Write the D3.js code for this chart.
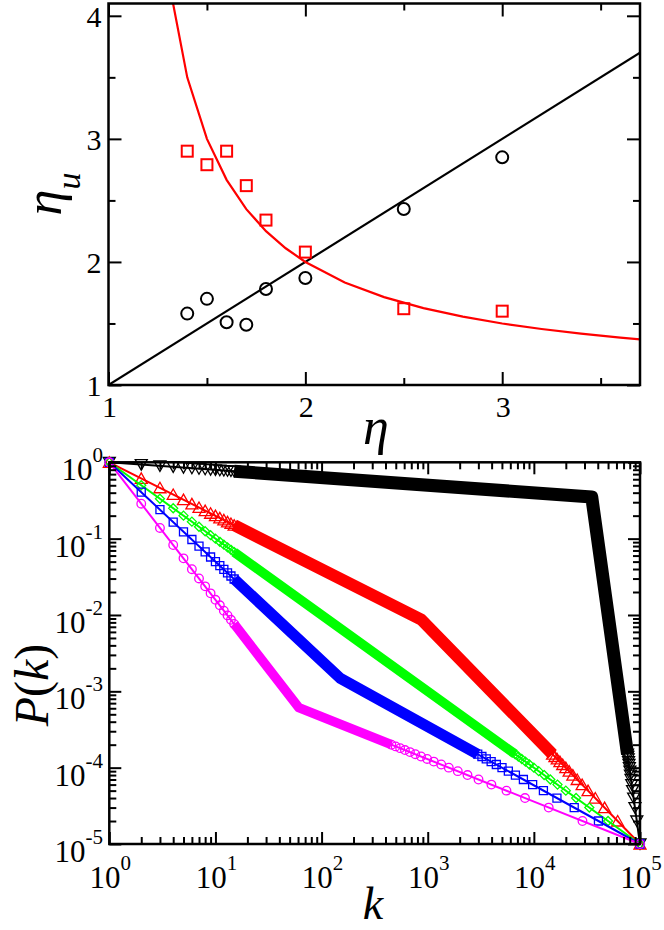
<!DOCTYPE html>
<html><head><meta charset="utf-8">
<script src="https://cdn.jsdelivr.net/npm/d3@7"></script>
<style>
body{margin:0;background:#fff}
svg{display:block}
text{font-family:'Liberation Serif','Times New Roman',serif;fill:#000}
</style>
</head><body>
<svg id="c" width="664" height="930"></svg>
<script>
// ---------------- Top panel data ----------------
const etaPts       = [1.4, 1.5, 1.6, 1.7, 1.8, 2.0, 2.5, 3.0];
const etaUSquares  = [2.90, 2.79, 2.90, 2.62, 2.34, 2.08, 1.62, 1.60];
const etaUCircles  = [1.58, 1.70, 1.51, 1.49, 1.78, 1.87, 2.43, 2.85];
const etaCurve     = [1.3, 1.4, 1.5, 1.6, 1.7, 1.8, 1.9, 2.0, 2.2, 2.4, 2.6, 2.8, 3.0, 3.2, 3.4, 3.6, 3.8];
const etaUCurve    = [4.333, 3.5, 3.0, 2.667, 2.429, 2.25, 2.111, 2.0, 1.833, 1.714, 1.625, 1.556, 1.5, 1.455, 1.417, 1.385, 1.357];
const etaLine      = [1, 3.7];
const etaULine     = [1, 3.7];
const topXTicks    = [1, 2, 3];
const topXMinor    = [1.5, 2.5, 3.5];
const topYTicks    = [1, 2, 3, 4];
const topYMinor    = [1.5, 2.5, 3.5];
const topXLabels   = ['1', '2', '3'];
const topYLabels   = ['1', '2', '3', '4'];

// ---------------- Bottom panel data ----------------
const kHead = [1, 2, 3, 4, 5, 6, 7, 8, 9, 10, 11, 12, 13, 14, 15];
const pHeadBlack   = [1, 0.933, 0.896, 0.871, 0.851, 0.836, 0.823, 0.812, 0.803, 0.794, 0.787, 0.780, 0.774, 0.768, 0.763];
const pHeadRed     = [1, 0.616, 0.464, 0.379, 0.324, 0.285, 0.256, 0.233, 0.215, 0.200, 0.187, 0.176, 0.166, 0.158, 0.150];
const pHeadGreen   = [1, 0.5, 0.333, 0.25, 0.2, 0.167, 0.143, 0.125, 0.111, 0.1, 0.0909, 0.0833, 0.0769, 0.0714, 0.0667];
const pHeadBlue    = [1, 0.406, 0.240, 0.165, 0.123, 0.0974, 0.0797, 0.0670, 0.0575, 0.0501, 0.0443, 0.0396, 0.0356, 0.0324, 0.0296];
const pHeadMagenta = [1, 0.287, 0.138, 0.0825, 0.0552, 0.0398, 0.0301, 0.0237, 0.0192, 0.0158, 0.0134, 0.0114, 0.00988, 0.00865, 0.00764];

const pTail = [1e-5, 2e-5, 3e-5, 4e-5, 5e-5, 6e-5, 7e-5, 8e-5, 9e-5, 10e-5, 11e-5, 12e-5, 13e-5, 14e-5, 15e-5, 16e-5, 17e-5, 18e-5, 19e-5, 20e-5];
const kTailBlack   = [100000, 93300, 89600, 87100, 85100, 83600, 82300, 81200, 80300, 79400, 78700, 78000, 77400, 76800, 76300];
const kTailRed     = [100000, 61600, 46400, 37900, 32400, 28500, 25600, 23300, 21500, 20000, 18700, 17600, 16600, 15800, 15000];
const kTailGreen   = [100000, 50000, 33300, 25000, 20000, 16700, 14300, 12500, 11100, 10000, 9090, 8330, 7690, 7140, 6670];
const kTailBlue    = [100000, 40600, 24000, 16500, 12300, 9740, 7970, 6700, 5750, 5010, 4430, 3960, 3560, 3240, 2960];
const kTailMagenta = [100000, 28700, 13800, 8250, 5520, 3980, 3010, 2370, 1920, 1580, 1340, 1140, 988, 865, 764, 680, 610, 550, 499, 455];

// knee (crossover) points of each curve
const kneeK = [35100, 870, 316, 149, 61];
const kneeP = [0.351, 0.0087, 0.00316, 0.00149, 0.00061];

const botXTicks = [1, 10, 100, 1000, 10000, 100000];
const botYTicks = [1e-5, 1e-4, 1e-3, 1e-2, 1e-1, 1];
const botXExp   = ['0', '1', '2', '3', '4', '5'];
const botYExp   = ['-5', '-4', '-3', '-2', '-1', '0'];

const seriesColor  = ['#000000', '#ff0000', '#00ff00', '#0000ff', '#ff00ff'];
const seriesSymbol = ['tdown', 'tup', 'diamond', 'square', 'circle'];
const seriesHeadP  = [pHeadBlack, pHeadRed, pHeadGreen, pHeadBlue, pHeadMagenta];
const seriesTailK  = [kTailBlack, kTailRed, kTailGreen, kTailBlue, kTailMagenta];
const bandWidth    = [13, 12, 9.5, 11, 9.5];

// ---------------- drawing ----------------
const svg = d3.select('#c');

function tickGroup(g, axisFn, scale, vals, len, tx, ty) {
  g.append('g')
    .attr('transform', `translate(${tx},${ty})`)
    .call(axisFn(scale).tickValues(vals).tickSize(-len).tickFormat(''))
    .call(s => s.select('.domain').remove())
    .selectAll('line').attr('stroke', '#000').attr('stroke-width', 2);
}

// ===== Top panel =====
const x1 = d3.scaleLinear().domain([1, 3.7]).range([108.5, 640]);
const y1 = d3.scaleLinear().domain([1, 4.1]).range([385, 3.5]);
const topG = svg.append('g');

topG.append('clipPath').attr('id', 'clipTop').append('rect')
  .attr('x', x1(1)).attr('y', y1(4.1)).attr('width', x1(3.7) - x1(1)).attr('height', y1(1) - y1(4.1));

const pl = topG.append('g').attr('clip-path', 'url(#clipTop)');
const lineTop = d3.line().x(d => x1(d[0])).y(d => y1(d[1]));
pl.append('path').datum(etaLine.map((v, i) => [v, etaULine[i]]))
  .attr('d', lineTop).attr('fill', 'none').attr('stroke', '#000').attr('stroke-width', 2.2);
pl.append('path').datum(etaCurve.map((v, i) => [v, etaUCurve[i]]))
  .attr('d', lineTop).attr('fill', 'none').attr('stroke', '#ff0000').attr('stroke-width', 2.2);

topG.selectAll('rect.sq').data(etaPts).enter().append('rect')
  .attr('x', d => x1(d) - 5.5).attr('y', (d, i) => y1(etaUSquares[i]) - 5.5)
  .attr('width', 11).attr('height', 11)
  .attr('fill', 'none').attr('stroke', '#ff0000').attr('stroke-width', 2);
topG.selectAll('circle.ci').data(etaPts).enter().append('circle')
  .attr('cx', d => x1(d)).attr('cy', (d, i) => y1(etaUCircles[i])).attr('r', 6)
  .attr('fill', 'none').attr('stroke', '#000').attr('stroke-width', 2);

tickGroup(topG, d3.axisBottom, x1, topXTicks, 13, 0, y1(1));
tickGroup(topG, d3.axisBottom, x1, topXMinor, 7, 0, y1(1));
tickGroup(topG, d3.axisTop, x1, topXTicks, 13, 0, y1(4.1));
tickGroup(topG, d3.axisTop, x1, topXMinor, 7, 0, y1(4.1));
tickGroup(topG, d3.axisLeft, y1, topYTicks, 13, x1(1), 0);
tickGroup(topG, d3.axisLeft, y1, topYMinor, 7, x1(1), 0);
tickGroup(topG, d3.axisRight, y1, topYTicks, 13, x1(3.7), 0);
tickGroup(topG, d3.axisRight, y1, topYMinor, 7, x1(3.7), 0);

topG.append('rect').attr('x', x1(1)).attr('y', y1(4.1))
  .attr('width', x1(3.7) - x1(1)).attr('height', y1(1) - y1(4.1))
  .attr('fill', 'none').attr('stroke', '#000').attr('stroke-width', 2.5);

topG.selectAll('text.xl').data(topXTicks).enter().append('text')
  .attr('x', d => x1(d) + 1).attr('y', y1(1) + 32).attr('text-anchor', 'middle')
  .attr('font-size', 30).text((d, i) => topXLabels[i]);
topG.selectAll('text.yl').data(topYTicks).enter().append('text')
  .attr('x', x1(1) - 7).attr('y', d => y1(d) + 11).attr('text-anchor', 'end')
  .attr('font-size', 30).text((d, i) => topYLabels[i]);

// axis titles
const tY = topG.append('text').attr('transform', 'translate(61,194) rotate(-90)').attr('text-anchor', 'middle');
tY.append('tspan').attr('font-size', 52).attr('font-style', 'italic').text('η');
tY.append('tspan').attr('font-size', 34).attr('font-style', 'italic').attr('dy', 19).text('u');
topG.append('text').attr('x', 376).attr('y', 444).attr('text-anchor', 'middle')
  .attr('font-size', 52).attr('font-style', 'italic').text('η');

// ===== Bottom panel =====
const x2 = d3.scaleLog().domain([1, 1e5]).range([109.3, 640]);
const y2 = d3.scaleLog().domain([1e-5, 1]).range([844, 462.3]);
const botG = svg.append('g');

const line2 = d3.line().x(d => x2(d[0])).y(d => y2(d[1]));

function symbolPath(type) {
  if (type === 'tup') return 'M0,-5.5L6,5L-6,5Z';
  if (type === 'tdown') return 'M0,5.5L6,-5L-6,-5Z';
  if (type === 'diamond') return 'M0,-4.5L4.5,0L0,4.5L-4.5,0Z';
  if (type === 'square') return 'M-4,-4L4,-4L4,4L-4,4Z';
  return 'M4.3,0A4.3,4.3 0 1,1 -4.3,0A4.3,4.3 0 1,1 4.3,0Z';
}

seriesColor.forEach((col, s) => {
  const g = botG.append('g');
  const headP = seriesHeadP[s], tailK = seriesTailK[s];
  const nh = headP.length - 1, nt = tailK.length - 1;
  g.append('path').datum([[kHead[0], headP[0]], [kneeK[s], kneeP[s]], [tailK[0], pTail[0]]])
    .attr('d', line2).attr('fill', 'none').attr('stroke', col).attr('stroke-width', 2);
  g.append('path').datum([[kHead[nh], headP[nh]], [kneeK[s], kneeP[s]], [tailK[nt], pTail[nt]]])
    .attr('d', line2).attr('fill', 'none').attr('stroke', col)
    .attr('stroke-width', bandWidth[s]).attr('stroke-linejoin', 'round');
  const pts = headP.map((p, i) => [kHead[i], p]).concat(tailK.map((k, i) => [k, pTail[i]]));
  g.selectAll('path.sym').data(pts).enter().append('path')
    .attr('transform', d => `translate(${x2(d[0])},${y2(d[1])})`)
    .attr('d', symbolPath(seriesSymbol[s]))
    .attr('fill', 'none').attr('stroke', col).attr('stroke-width', 1.3);
});

const xMinor2 = x2.ticks().filter(v => botXTicks.indexOf(v) < 0);
const yMinor2 = y2.ticks().filter(v => botYTicks.indexOf(v) < 0);
tickGroup(botG, d3.axisBottom, x2, botXTicks, 12, 0, 844);
tickGroup(botG, d3.axisBottom, x2, xMinor2, 7, 0, 844);
tickGroup(botG, d3.axisTop, x2, botXTicks, 12, 0, 462.3);
tickGroup(botG, d3.axisTop, x2, xMinor2, 7, 0, 462.3);
tickGroup(botG, d3.axisLeft, y2, botYTicks, 12, 109.3, 0);
tickGroup(botG, d3.axisLeft, y2, yMinor2, 7, 109.3, 0);
tickGroup(botG, d3.axisRight, y2, botYTicks, 12, 640, 0);
tickGroup(botG, d3.axisRight, y2, yMinor2, 7, 640, 0);

botG.append('rect').attr('x', 109.3).attr('y', 462.3).attr('width', 640 - 109.3).attr('height', 844 - 462.3)
  .attr('fill', 'none').attr('stroke', '#000').attr('stroke-width', 2.5);

botXTicks.forEach((v, i) => {
  const t = botG.append('text').attr('x', x2(v) + 1).attr('y', 888).attr('text-anchor', 'middle').attr('font-size', 31);
  t.append('tspan').text('10');
  t.append('tspan').attr('font-size', 21).attr('dy', -18).text(botXExp[i]);
});
botYTicks.forEach((v, i) => {
  const t = botG.append('text').attr('x', 103).attr('y', y2(v) + 18).attr('text-anchor', 'end').attr('font-size', 31);
  t.append('tspan').text('10');
  t.append('tspan').attr('font-size', 21).attr('dy', -18).text(botYExp[i]);
});

const tP = botG.append('text').attr('transform', 'translate(48,685) rotate(-90)').attr('text-anchor', 'middle').attr('font-size', 48);
tP.append('tspan').attr('font-style', 'italic').text('P');
tP.append('tspan').text('(');
tP.append('tspan').attr('font-style', 'italic').text('k');
tP.append('tspan').text(')');
botG.append('text').attr('x', 373).attr('y', 919).attr('text-anchor', 'middle')
  .attr('font-size', 46).attr('font-style', 'italic').text('k');
</script>
</body></html>
